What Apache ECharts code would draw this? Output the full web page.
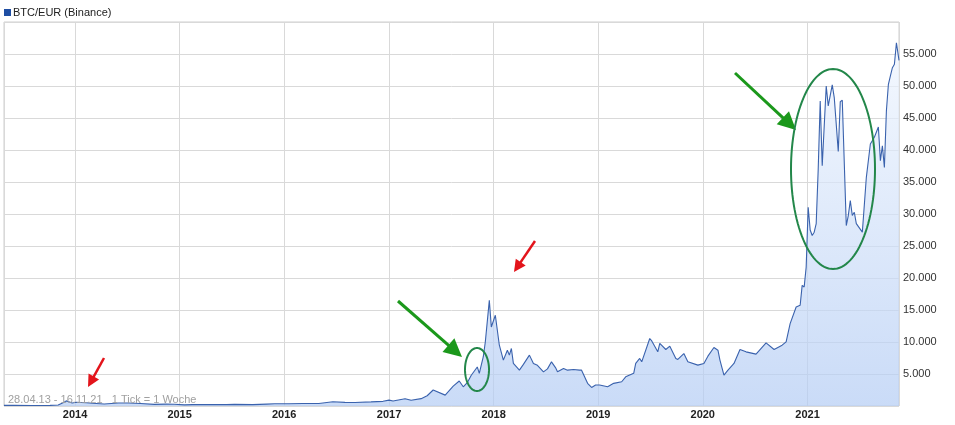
<!DOCTYPE html>
<html>
<head>
<meta charset="utf-8">
<script src="https://cdn.jsdelivr.net/npm/echarts@6/dist/echarts.min.js"></script>
<style>
html,body{margin:0;padding:0;background:#fff;}
#chart{width:955px;height:425px;}
</style>
</head>
<body>
<div id="chart"></div>
<script>
// Weekly-ish closing prices (EUR)
const dates = [
'2013-04-28','2013-06-02','2013-08-04','2013-10-06','2013-11-03','2013-11-24','2013-12-01','2013-12-22',
'2014-01-05','2014-02-09','2014-03-02','2014-04-13','2014-06-01','2014-07-06','2014-08-17','2014-10-05',
'2014-11-16','2014-12-14','2015-01-18','2015-02-15','2015-04-12','2015-06-14','2015-07-12','2015-09-13',
'2015-11-01','2015-11-29','2016-01-17','2016-03-06','2016-05-01','2016-06-19','2016-07-31','2016-09-04',
'2016-10-30','2016-12-11','2017-01-01','2017-01-15','2017-02-26','2017-03-19','2017-04-23','2017-05-14',
'2017-06-04','2017-07-16','2017-08-13','2017-09-03','2017-09-17','2017-10-01','2017-10-15','2017-11-05',
'2017-11-12','2017-11-26','2017-12-03','2017-12-17','2017-12-24','2018-01-07','2018-01-21','2018-02-04',
'2018-02-18','2018-02-25','2018-03-04','2018-03-11','2018-04-01','2018-04-15','2018-05-06','2018-05-20',
'2018-06-03','2018-06-24','2018-07-08','2018-07-22','2018-08-05','2018-08-12','2018-09-02','2018-09-16',
'2018-10-07','2018-10-28','2018-11-04','2018-11-25','2018-12-09','2018-12-23','2019-01-06','2019-02-03',
'2019-02-24','2019-03-24','2019-04-07','2019-05-05','2019-05-12','2019-05-26','2019-06-02','2019-06-30',
'2019-07-07','2019-07-28','2019-08-04','2019-08-25','2019-09-08','2019-09-29','2019-10-06','2019-10-27',
'2019-11-10','2019-12-15','2020-01-05','2020-01-19','2020-02-09','2020-02-23','2020-03-01','2020-03-15',
'2020-03-29','2020-04-19','2020-05-10','2020-05-31','2020-07-05','2020-08-09','2020-09-06','2020-10-04',
'2020-10-18','2020-11-01','2020-11-22','2020-12-06','2020-12-13','2020-12-20','2020-12-27','2021-01-03',
'2021-01-10','2021-01-17','2021-01-24','2021-01-31','2021-02-07','2021-02-14','2021-02-21','2021-03-07',
'2021-03-14','2021-03-28','2021-04-04','2021-04-18','2021-04-25','2021-05-02','2021-05-16','2021-05-23',
'2021-05-30','2021-06-06','2021-06-13','2021-06-20','2021-07-11','2021-07-25','2021-08-08','2021-08-22',
'2021-09-05','2021-09-12','2021-09-19','2021-09-26','2021-10-03','2021-10-10','2021-10-17','2021-10-24',
'2021-10-31','2021-11-07','2021-11-16'
];
const values = [
100,95,75,100,160,590,800,480,
590,500,420,310,470,460,380,260,
300,280,180,210,220,210,260,210,
300,340,350,380,400,660,560,540,
640,730,920,780,1120,900,1150,1600,
2500,1700,3100,3900,3000,3650,4800,6100,
5100,7700,10000,16500,12350,14180,9500,7170,
8720,7950,8990,6650,5600,6500,7950,6650,
6350,5340,5800,6900,6000,5340,5870,5600,
5700,5600,5600,3540,2900,3270,3270,3000,
3540,3790,4560,5100,6650,7430,6900,10550,
10170,8460,9770,8830,9350,7430,7270,8200,
6900,6390,6650,7790,9140,8720,7170,4830,
5600,6650,8830,8460,8100,9860,8830,9500,
10020,12880,15470,15740,18850,18590,21700,31050,
27500,26640,27160,28500,37000,47670,37550,50010,
46900,50170,48190,39780,47560,47780,28200,29760,
32090,29760,30270,28500,27160,35730,40930,42000,
43600,38330,40660,37280,46100,50270,51570,52860,
53390,56760,54000
];
const seriesName = 'BTC/EUR (Binance)';
const rangeText = '28.04.13 - 16.11.21   1 Tick = 1 Woche';
const yTicks = {min: 0, max: 60000, step: 5000};

const chart = echarts.init(document.getElementById('chart'), null, {renderer: 'canvas'});
const data = dates.map((d, i) => [d, values[i]]);
const fmt = v => String(v).replace(/\B(?=(\d{3})+(?!\d))/g, '.');

function arrow(x1, y1, x2, y2, color, w, hl, hw) {
  const dx = x2 - x1, dy = y2 - y1, L = Math.hypot(dx, dy);
  const ux = dx / L, uy = dy / L, px = -uy, py = ux;
  const bx = x2 - ux * hl, by = y2 - uy * hl;
  return [
    {type: 'line', shape: {x1: x1, y1: y1, x2: bx + ux, y2: by + uy}, style: {stroke: color, lineWidth: w}, z: 100},
    {type: 'polygon', shape: {points: [[x2, y2], [bx + px * hw, by + py * hw], [bx - px * hw, by - py * hw]]}, style: {fill: color}, z: 100}
  ];
}
function ellipse(cx, cy, rx, ry, color, w) {
  const pts = [];
  for (let i = 0; i < 120; i++) {
    const a = i / 120 * Math.PI * 2;
    pts.push([cx + rx * Math.cos(a), cy + ry * Math.sin(a)]);
  }
  return {type: 'polygon', shape: {points: pts}, style: {fill: 'none', stroke: color, lineWidth: w}, z: 100};
}
const red = '#e3141b', green = '#1b981b', ell = '#23874a';
const graphics = [
  {type: 'text', left: 8, top: 394, style: {text: rangeText, fill: '#a0a0a0', font: '11px "Liberation Sans", Arial, sans-serif'}, z: 50},
  ...arrow(104, 358, 88, 387, red, 2.5, 12, 6),
  ...arrow(535, 241, 514, 272, red, 2.5, 12, 6),
  ...arrow(398, 301, 462, 357, green, 3, 18, 9),
  ...arrow(735, 73, 796, 130, green, 3, 18, 9),
  ellipse(477, 369.5, 12, 21.5, ell, 2),
  ellipse(833, 169, 42, 100, ell, 2)
];

chart.setOption({
  animation: false,
  backgroundColor: '#fff',
  textStyle: {fontFamily: '"Liberation Sans", Arial, sans-serif'},
  legend: {
    left: 4, top: 7, padding: 0, itemWidth: 7, itemHeight: 7, itemGap: 10,
    icon: 'rect',
    textStyle: {fontSize: 11, color: '#222', padding: [0, 0, 0, -3]},
    data: [seriesName]
  },
  grid: {left: 4, right: 56, top: 22, bottom: 19, show: true, borderColor: '#cfcfcf', borderWidth: 1, containLabel: false},
  xAxis: {
    type: 'time',
    min: dates[0], max: dates[dates.length - 1],
    splitNumber: 9,
    minInterval: 365 * 24 * 3600 * 1000,
    axisLine: {show: false},
    axisTick: {show: false},
    axisLabel: {formatter: '{yyyy}', color: '#222', fontSize: 11, fontWeight: 'bold', margin: 3, showMinLabel: false, showMaxLabel: false},
    splitLine: {show: true, lineStyle: {color: '#d9d9d9', width: 1}}
  },
  yAxis: {
    type: 'value', position: 'right',
    min: yTicks.min, max: yTicks.max, interval: yTicks.step,
    axisLine: {show: false},
    axisTick: {show: false},
    axisLabel: {color: '#333', fontSize: 11, margin: 4, showMinLabel: false, showMaxLabel: false,
      formatter: v => (v <= yTicks.min || v >= yTicks.max) ? '' : fmt(v)},
    splitLine: {show: true, lineStyle: {color: '#d9d9d9', width: 1}}
  },
  series: [{
    name: seriesName,
    type: 'line',
    data: data,
    showSymbol: false,
    symbol: 'none',
    itemStyle: {color: '#1f4ea3', borderColor: '#17306b'},
    lineStyle: {color: '#3a62ad', width: 1.1},
    areaStyle: {
      color: new echarts.graphic.LinearGradient(0, 0, 0, 1, [
        {offset: 0, color: '#eff5fe'},
        {offset: 1, color: '#b3ccf4'}
      ])
    }
  }],
  graphic: graphics
});
</script>
</body>
</html>
